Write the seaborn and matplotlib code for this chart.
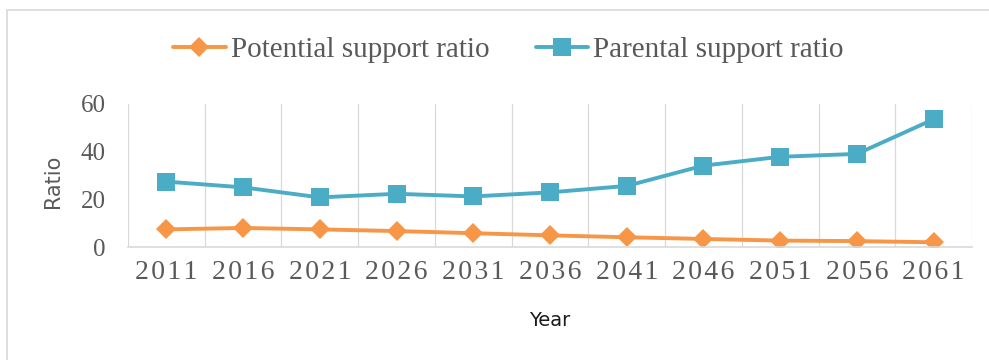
import matplotlib
matplotlib.use("Agg")
import matplotlib.pyplot as plt
from matplotlib.patches import Rectangle
from matplotlib.ticker import FixedLocator
import numpy as np
import pandas as pd
import seaborn as sns

# Projected support ratios by census year
years = ["2011", "2016", "2021", "2026", "2031", "2036", "2041", "2046", "2051", "2056", "2061"]
potential_support = [7.5, 8.1, 7.5, 6.8, 5.9, 5.0, 4.2, 3.5, 2.8, 2.6, 2.1]
parental_support = [27.5, 25.1, 20.9, 22.4, 21.3, 23.0, 25.7, 34.2, 37.9, 39.1, 53.6]
y_ticks = [0, 20, 40, 60]

series_names = ["Potential support ratio", "Parental support ratio"]
series_colors = ["#F79646", "#4BACC6"]

sns.set_theme(style="white")
plt.rcParams["font.family"] = ["Liberation Serif", "DejaVu Sans"]

pos = np.arange(len(years))
df = pd.DataFrame({
    "pos": np.concatenate([pos, pos]),
    "ratio": potential_support + parental_support,
    "series": [series_names[0]] * len(years) + [series_names[1]] * len(years),
})

fig = plt.figure(figsize=(9.89, 3.6), dpi=100)
ax = fig.add_axes([128 / 989, 112.7 / 360, 844 / 989, 143.3 / 360])

# Light frame around the chart area
fig.patches.append(Rectangle((7 / 989, -0.1), 1.2, (350 / 360) + 0.1,
                             transform=fig.transFigure, fill=False,
                             edgecolor="#d9d9d9", linewidth=1.2))

sns.lineplot(data=df, x="pos", y="ratio", hue="series", style="series",
             hue_order=series_names, style_order=series_names,
             palette=series_colors, markers={series_names[0]: "D", series_names[1]: "s"},
             dashes=False, linewidth=2.8, markeredgewidth=0, ax=ax, legend=False)

# marker sizes differ between the two series
marker_sizes = [10.5, 13]
for line, ms in zip(ax.get_lines(), marker_sizes):
    line.set_markersize(ms)

# year labels are set with a little letter spacing
spaced_years = ["\u200a".join(y) for y in years]

ax.set_xlim(-0.5, len(years) - 0.5)
ax.set_ylim(0, 60)
ax.set_xticks(pos)
ax.set_xticklabels(spaced_years)
ax.set_yticks(y_ticks)
ax.xaxis.set_minor_locator(FixedLocator(np.arange(-0.5, len(years), 1.0)))
ax.grid(False)
ax.grid(which="minor", axis="x", color="#d9d9d9", linewidth=0.9)
ax.tick_params(axis="x", which="both", length=0, pad=9, labelsize=20, labelcolor="#595959")
ax.tick_params(axis="y", which="both", length=0, pad=16, labelsize=18, labelcolor="#595959")

for side in ["top", "right", "left"]:
    ax.spines[side].set_visible(False)
ax.spines["bottom"].set_color("#d9d9d9")
ax.spines["bottom"].set_linewidth(1.2)

ax.set_ylabel("Ratio", family=["DejaVu Sans"], fontsize=15, color="#595959")
ax.yaxis.set_label_coords(-0.077, 0.463)
ax.set_xlabel("Year", family=["DejaVu Sans"], fontsize=14, color="#1a1a1a")
ax.xaxis.set_label_coords(0.5, -0.445)

handles = [
    plt.Line2D([], [], color=series_colors[0], marker="D", markersize=marker_sizes[0],
               markeredgewidth=0, linewidth=2.8),
    plt.Line2D([], [], color=series_colors[1], marker="s", markersize=marker_sizes[1],
               markeredgewidth=0, linewidth=2.8),
]
leg = fig.legend(handles, series_names, loc="center", ncol=2,
                 bbox_to_anchor=(508.5 / 989, 1 - 50 / 360), frameon=False,
                 fontsize=21, handlelength=1.8, handletextpad=0.17,
                 columnspacing=1.6)
for t in leg.get_texts():
    t.set_color("#595959")

fig.savefig("out.png", dpi=100)
